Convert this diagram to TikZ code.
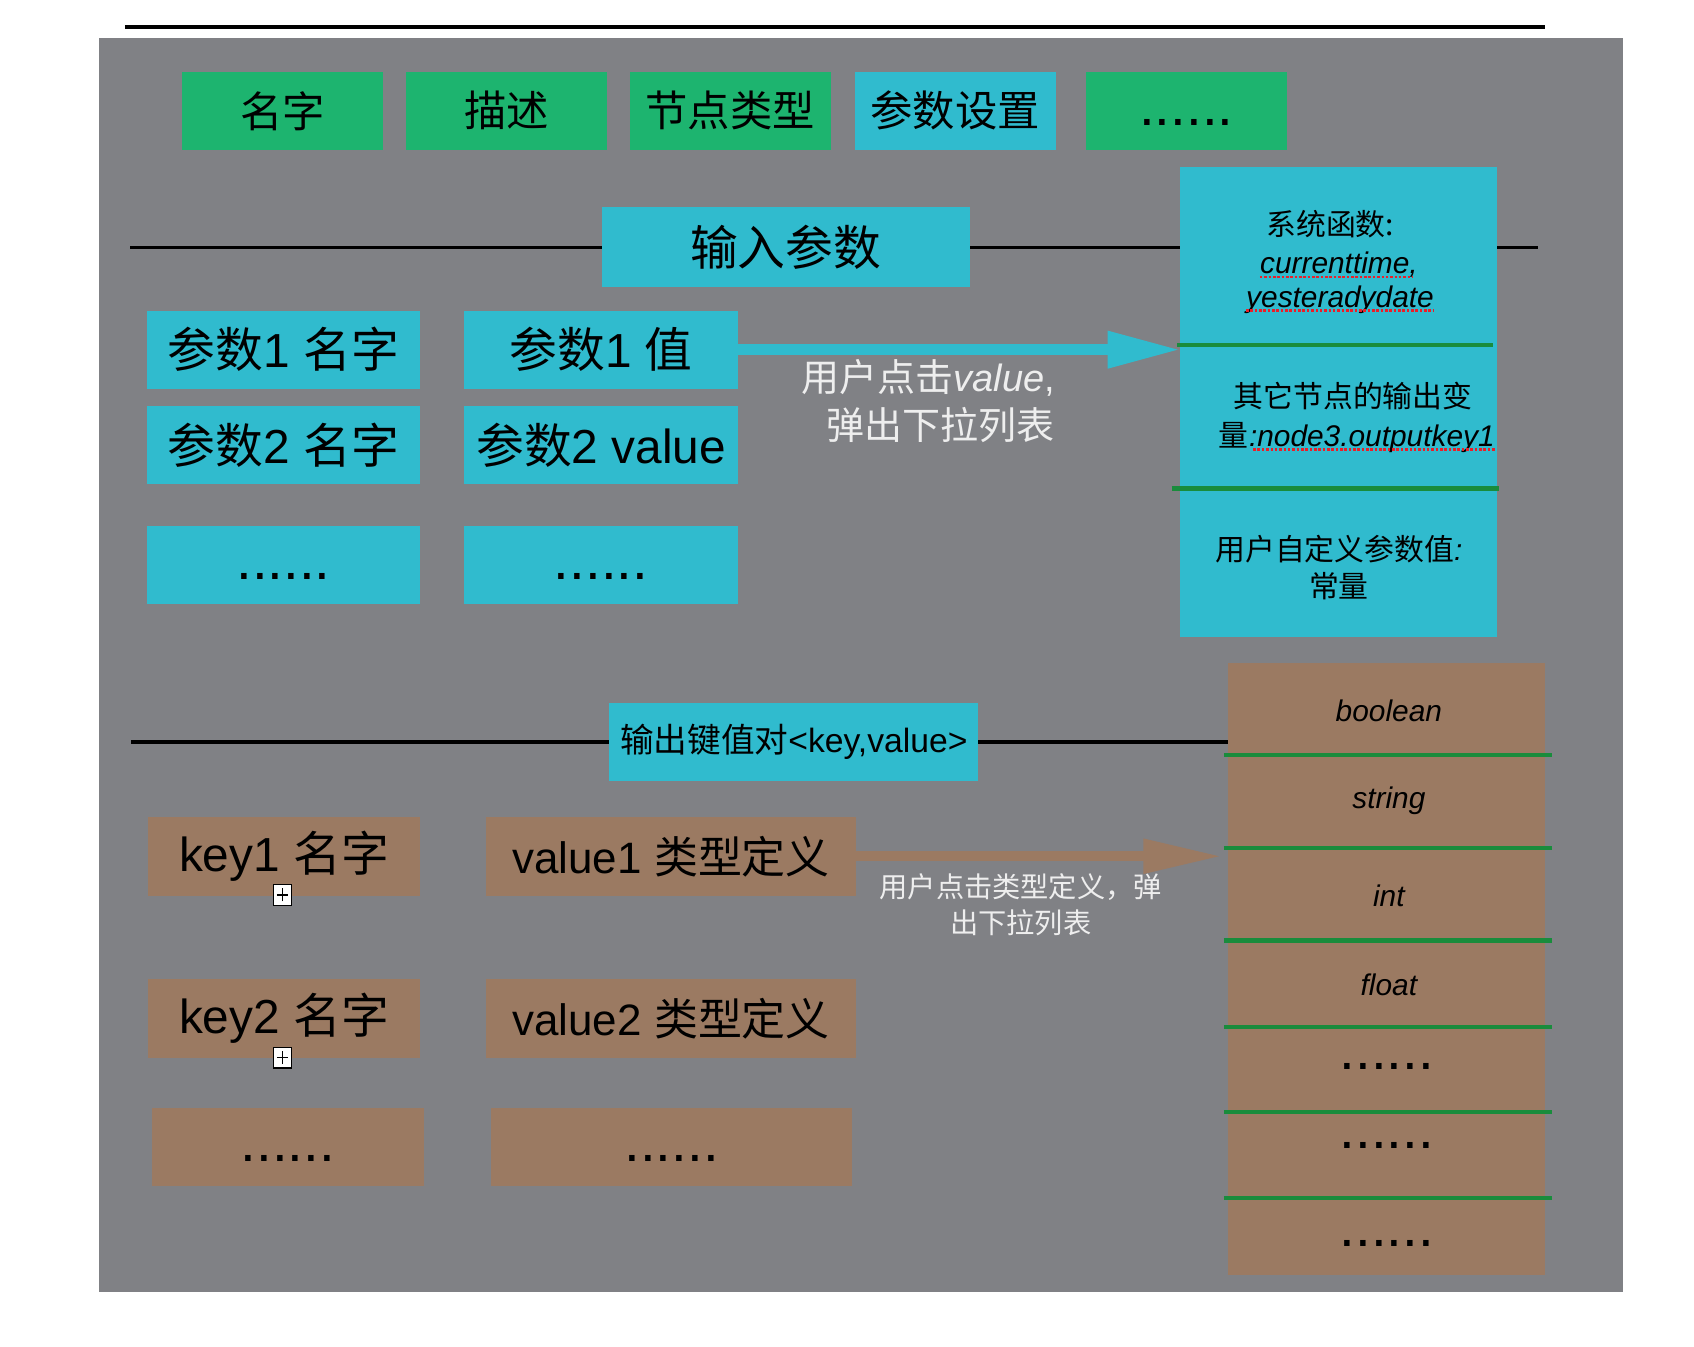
\documentclass[tikz,border=0pt]{standalone}
\usepackage{fontspec}
\setmainfont{Liberation Sans}
\newfontfamily\cjk{Noto Sans CJK SC}
\usetikzlibrary{arrows.meta}
\definecolor{bggray}{RGB}{128,129,133}
\definecolor{mygreen}{RGB}{29,180,111}
\definecolor{mycyan}{RGB}{48,187,206}
\definecolor{mybrown}{RGB}{155,122,98}
\definecolor{sepgreen}{RGB}{25,140,60}
\definecolor{labelwhite}{RGB}{238,238,238}
\definecolor{ulred}{RGB}{235,30,40}
\newcommand\zh[1]{{\cjk #1}}
\newcommand\fsz[1]{\fontsize{#1}{#1}\selectfont}
\begin{document}
\begin{tikzpicture}[x=1pt,y=-1pt,
  cell/.style={inner sep=0pt,outer sep=0pt,text=black,anchor=center},
  gcell/.style={cell,fill=mygreen},
  ccell/.style={cell,fill=mycyan},
  bcell/.style={cell,fill=mybrown},
  bigtxt/.style={font=\fsz{44}},
  toptxt/.style={font=\fsz{39}},
  smalltxt/.style={inner sep=0pt,font=\fsz{27.5}},
  typetxt/.style={inner sep=0pt,font=\fsz{27.5}\itshape},
  dotstxt/.style={inner sep=0pt,font=\fsz{52},anchor=base},
  sepline/.style={draw=sepgreen,line width=4pt},
  blackrule/.style={draw=black,line width=3.5pt},
  ulline/.style={draw=ulred,line width=2.4pt,dash pattern=on 2.4pt off 1.6pt},
  lbl/.style={inner sep=0pt,text=labelwhite},
  plusbox/.style={draw=black,fill=white,line width=1pt,minimum width=17pt,minimum height=19pt,inner sep=0pt,
     path picture={\draw[line width=1.3pt] ([xshift=-5pt]path picture bounding box.center) -- ([xshift=5pt]path picture bounding box.center);
                   \draw[line width=1.3pt] ([yshift=-6pt]path picture bounding box.center) -- ([yshift=6pt]path picture bounding box.center);}}
]
\useasboundingbox (0,0) rectangle (1560,1240);
% top rule
\coordinate (tl) at (115,25);
\coordinate (tr) at (1423,25);
\draw[blackrule] (tl) -- (tr);
% background
\fill[bggray] (91,35) rectangle (1495,1190);
% section rules
\coordinate (l1a) at (120,228);
\coordinate (l1b) at (1416,228);
\draw[blackrule] (l1a) -- (l1b);
\coordinate (l2a) at (121,683);
\coordinate (l2b) at (1131,683);
\draw[blackrule] (l2a) -- (l2b);

% top row
\node[gcell,toptxt,minimum width=185pt,minimum height=72pt] (n1) at (260.5,102) {\zh{名字}};
\node[gcell,toptxt,minimum width=185pt,minimum height=72pt] (n2) at (466.5,102) {\zh{描述}};
\node[gcell,toptxt,minimum width=185pt,minimum height=72pt] (n3) at (672.5,102) {\zh{节点类型}};
\node[ccell,toptxt,minimum width=185pt,minimum height=72pt] (n4) at (879.5,102) {\zh{参数设置}};
\node[gcell,minimum width=185pt,minimum height=72pt] (n5) at (1092.5,102) {};
\node[dotstxt] (n5d) at ([yshift=-14pt]n5.center) {......};

% input header
\node[ccell,bigtxt,minimum width=339pt,minimum height=73pt] (inp) at (723.5,227.5) {\zh{输入参数}};

% right cyan column
\node[ccell,minimum width=292pt,minimum height=433pt] (col1) at (1233,370.5) {};
\draw[sepline] (1084,318) -- (1375,318);
\draw[sepline] (1079,450) -- (1380,450);
\node[smalltxt] (s1) at (1225,206) {\zh{系统函数:}};
\node[smalltxt,anchor=base] (s2) at (1233,252) {\itshape currenttime,};
\node[smalltxt,anchor=base] (s3) at (1234,283) {\itshape yesteradydate};
\draw[ulline] ([yshift=-3pt]s2.base west) -- ([yshift=-3pt,xshift=-5pt]s2.base east);
\draw[ulline] ([yshift=-3pt]s3.base west) -- ([yshift=-3pt]s3.base east);
\node[smalltxt] (o1) at (1246,365) {\zh{其它节点的输出变}};
\node[smalltxt,anchor=base west] (o3) at (1150,411) {\itshape :node3.outputkey1};
\node[smalltxt,anchor=base east] (o2) at (o3.base west) {\zh{量}};
\draw[ulline] ([yshift=-3pt,xshift=4pt]o3.base west) -- ([yshift=-3pt]o3.base east);
\node[smalltxt] (u1) at (1233,506) {\zh{用户自定义参数值}\textit{:}};
\node[smalltxt] (u2) at (1233,540) {\zh{常量}};

% parameter boxes
\node[ccell,bigtxt,minimum width=252pt,minimum height=72pt] (p1n) at (261,322) {\zh{参数}1 \zh{名字}};
\node[ccell,bigtxt,minimum width=252pt,minimum height=72pt] (p1v) at (553.5,322) {\zh{参数}1 \zh{值}};
\node[ccell,bigtxt,minimum width=252pt,minimum height=72pt] (p2n) at (261,410) {\zh{参数}2 \zh{名字}};
\node[ccell,bigtxt,minimum width=252pt,minimum height=72pt] (p2v) at (553.5,410) {\zh{参数}2 value};
\node[ccell,minimum width=252pt,minimum height=72pt] (p3n) at (261,520) {};
\node[ccell,minimum width=252pt,minimum height=72pt] (p3v) at (553.5,520) {};
\node[dotstxt] (p3nd) at ([yshift=-14pt]p3n.center) {......};
\node[dotstxt] (p3vd) at ([yshift=-14pt]p3v.center) {......};

% cyan arrow
\draw[draw=mycyan,line width=10pt,-{Triangle[length=67pt,width=32pt]}] (p1v.east) -- (p1v.east -| col1.west);
\node[lbl,font=\fsz{35}] (a1) at (855,348) {\zh{用户点击}\textit{value},};
\node[lbl,font=\fsz{35}] (a2) at (866,391) {\zh{弹出下拉列表}};

% output header
\node[ccell,font=\fsz{31},minimum width=340pt,minimum height=72pt] (out) at (731,683) {\zh{输出键值对}<key,value>};

% brown column
\node[bcell,minimum width=292pt,minimum height=563pt] (col2) at (1277,892.5) {};
\foreach \yy in {695,781,866,946,1024,1103}{\draw[sepline] (1127,\yy) -- (1429,\yy);}
\node[typetxt] (t1) at (1279,655) {boolean};
\node[typetxt] (t2) at (1279,737) {string};
\node[typetxt] (t3) at (1279,825) {int};
\node[typetxt] (t4) at (1279,907) {float};
\node[dotstxt] (t5) at (1277,985) {......};
\node[dotstxt] (t6) at (1277,1058) {......};
\node[dotstxt] (t7) at (1277,1148) {......};

% key/value boxes
\node[bcell,bigtxt,minimum width=251pt,minimum height=73pt] (k1) at (261.5,788.5) {key1 \zh{名字}};
\node[bcell,font=\fsz{40.5},minimum width=340pt,minimum height=73pt] (v1) at (618,788.5) {value1 \zh{类型定义}};
\node[bcell,bigtxt,minimum width=251pt,minimum height=73pt] (k2) at (261.5,938) {key2 \zh{名字}};
\node[bcell,font=\fsz{40.5},minimum width=340pt,minimum height=73pt] (v2) at (618,938) {value2 \zh{类型定义}};
\node[bcell,minimum width=250pt,minimum height=72pt] (k3) at (265,1056) {};
\node[bcell,minimum width=333pt,minimum height=72pt] (v3) at (618.5,1056) {};
\node[dotstxt] (k3d) at ([yshift=-14pt]k3.center) {......};
\node[dotstxt] (v3d) at ([yshift=-14pt]v3.center) {......};
\node[plusbox] (pl1) at (260,824) {};
\node[plusbox] (pl2) at (260,974) {};

% brown arrow
\draw[draw=mybrown,line width=9pt,-{Triangle[length=72pt,width=30pt]}] (v1.east) -- ([xshift=-6pt]v1.east -| col2.west);
\node[lbl,font=\fsz{26}] (b1) at (940,817) {\zh{用户点击类型定义，弹}};
\node[lbl,font=\fsz{26}] (b2) at (940,850) {\zh{出下拉列表}};
\end{tikzpicture}
\end{document}
